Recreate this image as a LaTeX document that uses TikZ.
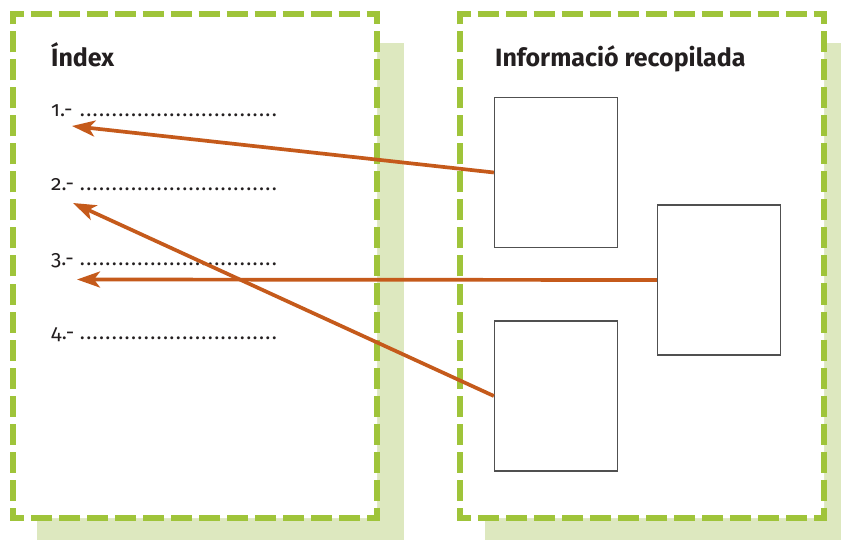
\documentclass[tikz,border=0pt]{standalone}
\usepackage{fontspec}
\setmainfont{Fira Sans}
\usetikzlibrary{arrows.meta}
\definecolor{framegreen}{HTML}{9FC43A}
\definecolor{shadowgreen}{HTML}{DDE8BF}
\definecolor{linkorange}{HTML}{C55A1B}
\definecolor{boxgray}{HTML}{505050}
\definecolor{inkblack}{HTML}{231F20}
\newcommand\dotrow{\foreach \k in {1,...,31}{\hbox to 6.4pt{\hss.\hss}}}
\begin{document}
\begin{tikzpicture}[x=1pt,y=-1pt,
  panel/.style={draw=framegreen, fill=white, line width=5.6pt, line join=miter,
    dash pattern=on 21pt off 7pt, dash phase=24.5pt},
  page/.style={draw=boxgray, line width=1.3pt, fill=white, minimum width=123pt,
    minimum height=150pt, inner sep=0pt},
  link/.style={draw=linkorange, line width=3.7pt, line cap=butt,
    -{Stealth[length=23pt,width=16pt,inset=6pt]}},
  title/.style={anchor=base west, inner sep=0pt, text=inkblack,
    font=\fontsize{25}{28}\selectfont\bfseries},
  item/.style={anchor=base west, inner sep=0pt, text=inkblack,
    font=\fontsize{21}{24}\selectfont\addfontfeatures{Numbers=OldStyle}}]
\useasboundingbox (0,0) rectangle (841,540);
% shadows
\fill[shadowgreen] (37,43) rectangle (404,540);
\fill[shadowgreen] (485,43) rectangle (841,540);
% dashed panels
\path[panel] (195,14) -- (377,14) -- (377,518) -- (13,518) -- (13,14) -- cycle;
\path[panel] (642,14) -- (824,14) -- (824,518) -- (460,518) -- (460,14) -- cycle;
% titles
\node[title] (tindex) at (51,67) {Índex};
\node[title] (tinfo) at (495,67) {Informació recopilada};
% index items
\node[item] (i1) at (51,117) {\makebox[28pt][l]{1.-}\dotrow};
\node[item] (i2) at (51,191) {\makebox[28pt][l]{2.-}\dotrow};
\node[item] (i3) at (51,265.5) {\makebox[28pt][l]{3.-}\dotrow};
\node[item] (i4) at (51,339.5) {\makebox[28pt][l]{4.-}\dotrow};
% pages
\node[page] (p1) at (556,172.5) {};
\node[page] (p2) at (719,280) {};
\node[page] (p3) at (556,396) {};
% arrow tips
\coordinate (t1) at (72,126);
\coordinate (t2) at (73,203);
\coordinate (t3) at (77,279.5);
\draw[link] (p1.west) -- (t1);
\draw[link] (p3.west) -- (t2);
\draw[link] (p2.west) -- (t3);
\end{tikzpicture}
\end{document}
